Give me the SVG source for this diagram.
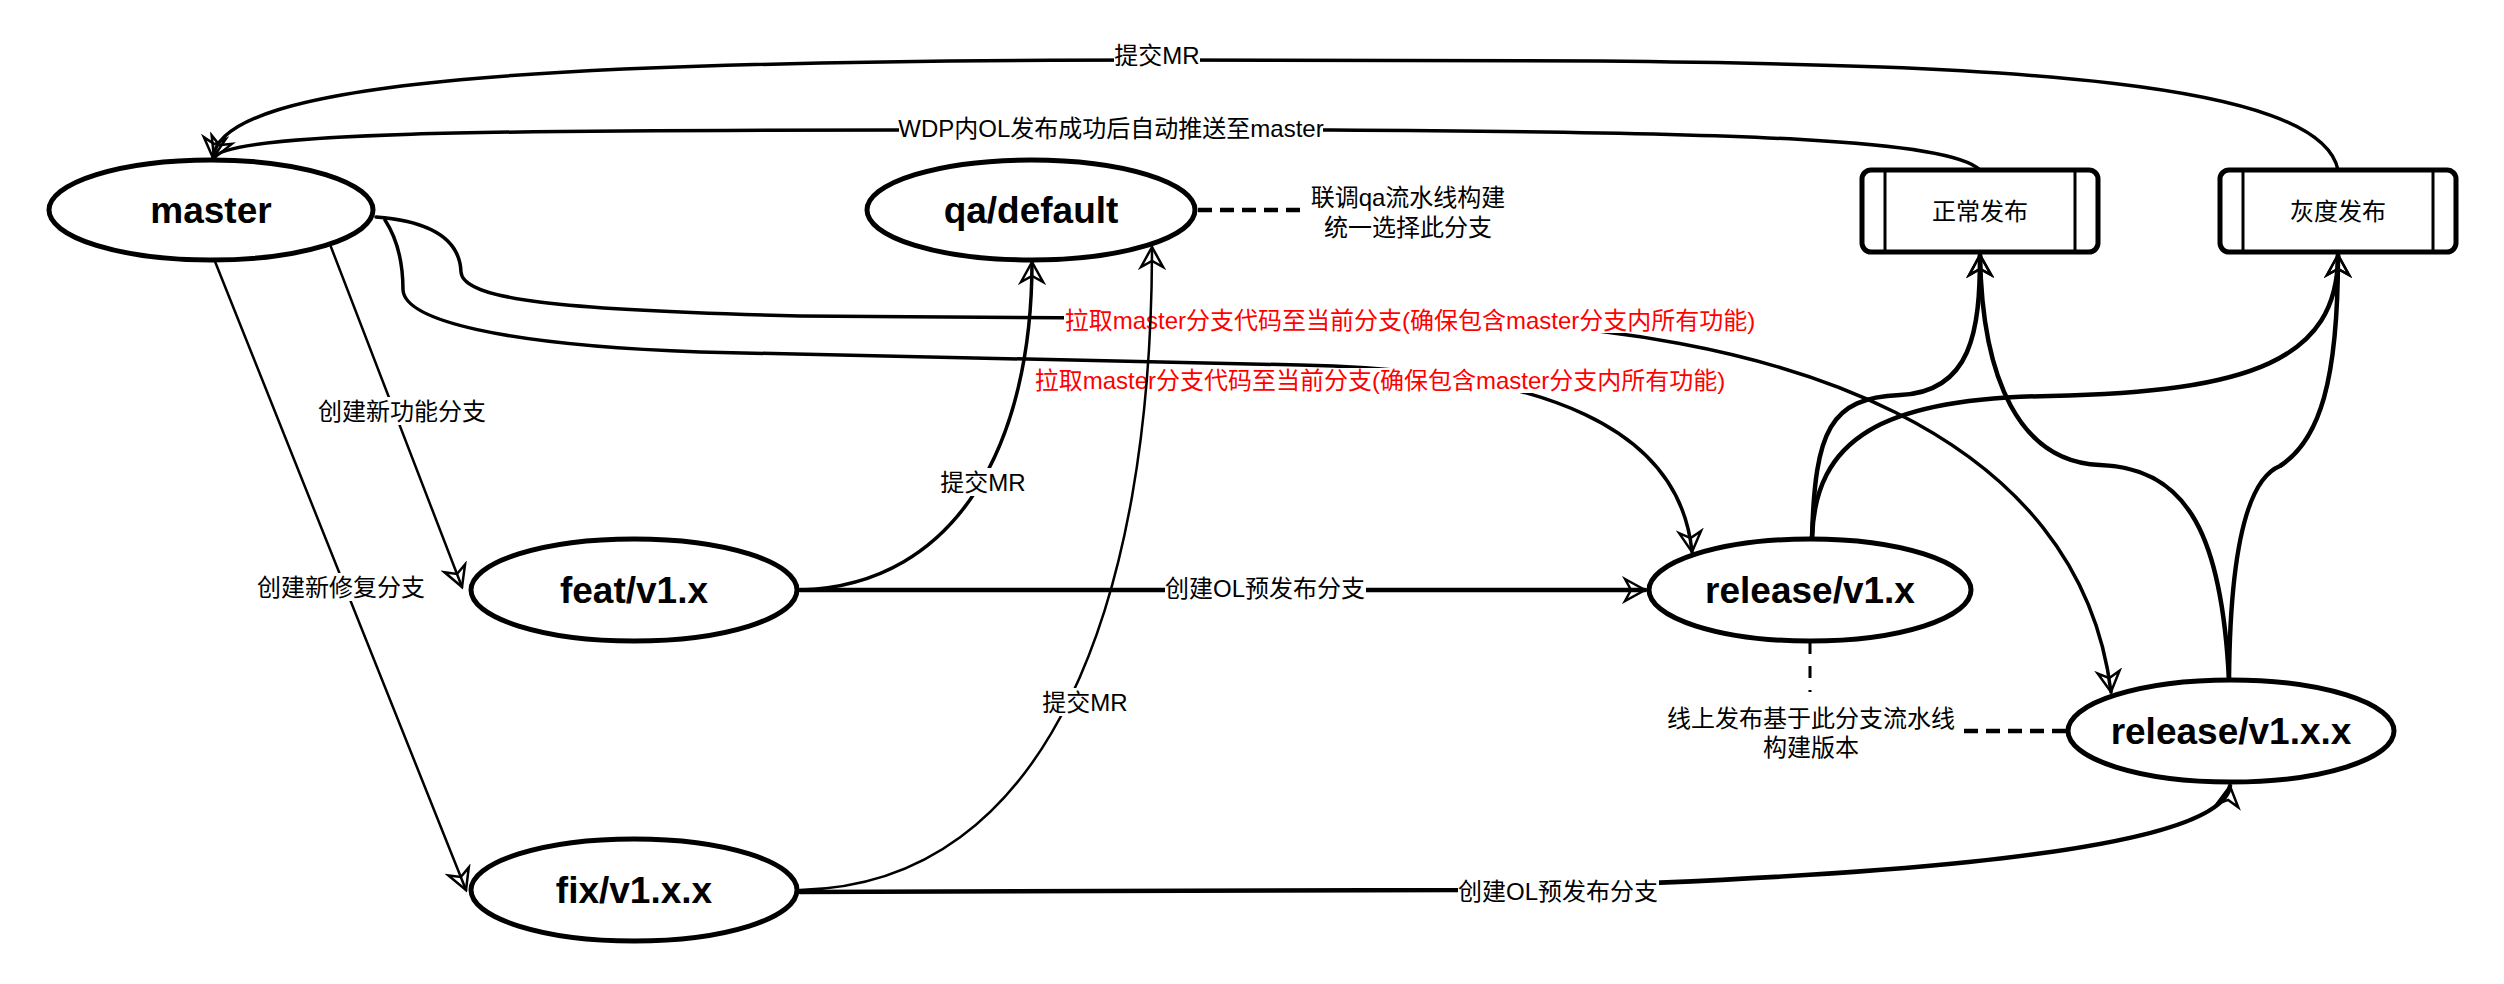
<svg xmlns="http://www.w3.org/2000/svg" width="2504" height="984" viewBox="0 0 2504 984">
<style>
.nd ellipse{fill:#fff;stroke:#000;stroke-width:5}
.nd rect{fill:#fff;stroke:#000;stroke-width:5}
.nd line{stroke:#000;stroke-width:3}
.nl{font-family:"Liberation Sans","Noto Sans CJK SC",sans-serif;font-weight:bold;font-size:37px;text-anchor:middle;dominant-baseline:central;fill:#000}
.lb{font-family:"Liberation Sans","Noto Sans CJK SC",sans-serif;font-size:24px;text-anchor:middle;dominant-baseline:central;fill:#000}
.red{fill:#ff0000}
.bg{fill:#fff}
.e{fill:none;stroke:#000;stroke-width:3.5;stroke-linecap:round}
.thin{stroke-width:2.5}
.thick{stroke-width:4.5}
.dsh{fill:none;stroke:#000;stroke-width:4.5;stroke-dasharray:14 8}
.dsht{fill:none;stroke:#000;stroke-width:3;stroke-dasharray:12 12}
</style>
<defs>
<marker id="arr" markerUnits="userSpaceOnUse" markerWidth="28" markerHeight="28" viewBox="0 0 28 28" refX="23" refY="14" orient="auto">
<path d="M3,3 L23,14 L3,25 L9,14 Z" fill="none" stroke="#000" stroke-width="2.5" stroke-linejoin="miter"/>
</marker>
</defs>
<rect width="2504" height="984" fill="#fff"/>
<g id="connectors">
<path class="e" d="M2338,170 C2320,80 2000,65 1600,61 L1160,60 C550,60 220,80 213,158" marker-end="url(#arr)"/>
<rect class="bg" x="1114" y="41" width="86" height="28"/>
<text class="lb" x="1157" y="55">提交MR</text>
<path class="e" d="M1980,170 C1950,140 1750,132 1330,130 L900,130 C500,130 225,132 214,158" marker-end="url(#arr)"/>
<rect class="bg" x="899" y="115" width="424" height="28"/>
<text class="lb" x="1111" y="128">WDP内OL发布成功后自动推送至master</text>
<path class="e thin" d="M331,247 L462,587" marker-end="url(#arr)"/>
<rect class="bg" x="318" y="397" width="168" height="28"/>
<text class="lb" x="402" y="411">创建新功能分支</text>
<path class="e thin" d="M214,259 L466,890" marker-end="url(#arr)"/>
<rect class="bg" x="257" y="573" width="168" height="28"/>
<text class="lb" x="341" y="587">创建新修复分支</text>
<path class="e" d="M376,217 C440,222 460,245 461,272 C463,300 560,310 800,316 L1410,320 C1800,322 2080,440 2111,692" marker-end="url(#arr)"/>
<path class="e" d="M385,220 C398,240 403,265 403,290 C405,320 500,345 700,352 C900,358 1100,362 1300,365 C1550,370 1680,430 1692,552" marker-end="url(#arr)"/>
<rect class="bg" x="1064" y="307" width="692" height="26"/>
<text class="lb red" x="1410" y="320">拉取master分支代码至当前分支(确保包含master分支内所有功能)</text>
<rect class="bg" x="1034" y="368" width="692" height="25"/>
<text class="lb red" x="1380" y="380">拉取master分支代码至当前分支(确保包含master分支内所有功能)</text>
<path class="e" d="M800,590 C960,585 1032,440 1032,262" marker-end="url(#arr)"/>
<rect class="bg" x="940" y="468" width="86" height="28"/>
<text class="lb" x="983" y="482">提交MR</text>
<path class="e thin" d="M800,890 C1050,885 1152,600 1152,247" marker-end="url(#arr)"/>
<rect class="bg" x="1042" y="688" width="86" height="28"/>
<text class="lb" x="1085" y="702">提交MR</text>
<path class="e thick" d="M800,590 L1645,590" marker-end="url(#arr)"/>
<rect class="bg" x="1165" y="574" width="201" height="28"/>
<text class="lb" x="1265" y="588">创建OL预发布分支</text>
<path class="e thick" d="M800,892 L1460,890 C1800,880 2220,860 2230,786" marker-end="url(#arr)"/>
<rect class="bg" x="1458" y="877" width="201" height="28"/>
<text class="lb" x="1558" y="891">创建OL预发布分支</text>
<path class="dsh" d="M1198,210 L1304,210"/>
<path class="dsht" d="M1810,642 L1810,692"/>
<path class="dsh" d="M2066,731 L1960,731"/>
<path class="e thick" d="M1812,538 C1815,430 1830,398 1900,395 C1972,392 1980,330 1980,255" marker-end="url(#arr)"/>
<path class="e thick" d="M1812,538 C1815,440 1880,398 2050,396 C2250,392 2338,360 2338,255" marker-end="url(#arr)"/>
<path class="e thick" d="M2229,680 C2222,540 2190,468 2100,465 C2020,462 1982,380 1980,255" marker-end="url(#arr)"/>
<path class="e thick" d="M2229,680 C2230,560 2245,480 2280,466 C2320,440 2338,380 2338,255" marker-end="url(#arr)"/>
</g>
<g id="note-qa">
<text class="lb" x="1408" y="197">联调qa流水线构建</text>
<text class="lb" x="1408" y="227">统一选择此分支</text>
</g>
<g id="note-release">
<text class="lb" x="1811" y="718">线上发布基于此分支流水线</text>
<text class="lb" x="1811" y="747">构建版本</text>
</g>
<g id="master" class="nd"><ellipse cx="211" cy="210" rx="162" ry="50"/><text class="nl" x="211" y="210">master</text></g>
<g id="qa-default" class="nd"><ellipse cx="1031" cy="210" rx="164" ry="50"/><text class="nl" x="1031" y="210">qa/default</text></g>
<g id="feat" class="nd"><ellipse cx="634" cy="590" rx="163" ry="51"/><text class="nl" x="634" y="590">feat/v1.x</text></g>
<g id="fix" class="nd"><ellipse cx="634" cy="890" rx="163" ry="51"/><text class="nl" x="634" y="890">fix/v1.x.x</text></g>
<g id="release-v1x" class="nd"><ellipse cx="1810" cy="590" rx="161" ry="51"/><text class="nl" x="1810" y="590">release/v1.x</text></g>
<g id="release-v1xx" class="nd"><ellipse cx="2231" cy="731" rx="163" ry="51"/><text class="nl" x="2231" y="731">release/v1.x.x</text></g>
<g id="normal-release" class="nd"><rect x="1862" y="170" width="236" height="82" rx="9"/><line x1="1885" y1="170" x2="1885" y2="252"/><line x1="2075" y1="170" x2="2075" y2="252"/><text class="lb" x="1980" y="211">正常发布</text></g>
<g id="gray-release" class="nd"><rect x="2220" y="170" width="236" height="82" rx="9"/><line x1="2243" y1="170" x2="2243" y2="252"/><line x1="2433" y1="170" x2="2433" y2="252"/><text class="lb" x="2338" y="211">灰度发布</text></g>
</svg>
